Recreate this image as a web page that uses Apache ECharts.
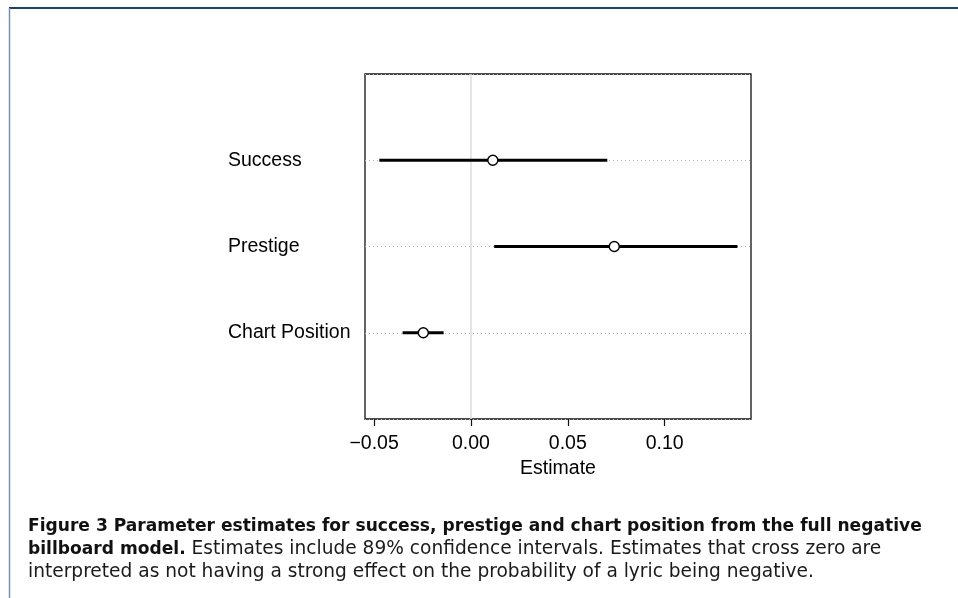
<!DOCTYPE html>
<html>
<head>
<meta charset="utf-8">
<script src="https://cdn.jsdelivr.net/npm/echarts@6/dist/echarts.min.js"></script>
<style>
  html, body { margin: 0; padding: 0; background: #ffffff; }
  #chart { width: 958px; height: 598px; }
</style>
</head>
<body>
<div id="chart"></div>
<script>
// Parameter estimates with 89% intervals, listed bottom to top
const categories = ['Chart Position', 'Prestige', 'Success'];
const estimates = [-0.0246, 0.0740, 0.0113];
const lowerBounds = [-0.0353, 0.0120, -0.0473];
const upperBounds = [-0.0141, 0.1376, 0.0704];
const xTickValues = [-0.05, 0.00, 0.05, 0.10];
const xRange = [-0.0547, 0.1446];

const captionBold1 = 'Figure 3 Parameter estimates for success, prestige and chart position from the full negative';
const captionBold2 = 'billboard model.';
const captionRest2 = ' Estimates include 89% confidence intervals. Estimates that cross zero are';
const captionLine3 = 'interpreted as not having a strong effect on the probability of a lyric being negative.';

const rows = categories.map((c, i) => i + 1);
const intervalData = categories.map((c, i) => [lowerBounds[i], upperBounds[i], rows[i]]);
const pointData = categories.map((c, i) => [estimates[i], rows[i]]);

const axisFont = "'Liberation Sans', Arial, Helvetica, sans-serif";
const captionFont = "'DejaVu Sans', sans-serif";
const boldFont = "bold 17.1px " + captionFont;
const plainFont = "18.6px " + captionFont;

const chart = echarts.init(document.getElementById('chart'), null, { renderer: 'canvas' });

chart.setOption({
  backgroundColor: '#ffffff',
  animation: false,
  grid: {
    left: 365, top: 74, right: 207, bottom: 179,
    show: true, borderColor: '#111111', borderWidth: 1.3, backgroundColor: 'transparent'
  },
  xAxis: {
    type: 'value',
    min: xRange[0], max: xRange[1],
    axisLine: { show: false },
    splitLine: { show: false },
    axisTick: { show: true, length: 7, lineStyle: { color: '#111111', width: 1.2 }, customValues: xTickValues },
    axisLabel: {
      customValues: xTickValues,
      margin: 15,
      fontSize: 19.5,
      fontFamily: axisFont,
      color: '#000000',
      formatter: v => (v < 0 ? '\u2212' : '') + Math.abs(v).toFixed(2)
    },
    name: 'Estimate',
    nameLocation: 'middle',
    nameGap: 40,
    nameTextStyle: { fontSize: 19.5, fontFamily: axisFont, color: '#000000' }
  },
  yAxis: {
    type: 'value',
    min: 0, max: 4, interval: 1,
    axisLine: { show: false },
    axisTick: { show: false },
    splitLine: { show: true, lineStyle: { color: '#b0b0b0', width: 1, type: [1, 3] } },
    axisLabel: {
      customValues: rows,
      formatter: v => categories[v - 1],
      align: 'left',
      margin: 137,
      fontSize: 19.5,
      fontFamily: axisFont,
      color: '#000000'
    }
  },
  series: [
    {
      type: 'custom',
      z: 2,
      data: intervalData,
      encode: { x: [0, 1], y: 2 },
      renderItem: function (params, api) {
        const y = api.value(2);
        const a = api.coord([api.value(0), y]);
        const b = api.coord([api.value(1), y]);
        return {
          type: 'line',
          shape: { x1: a[0], y1: a[1], x2: b[0], y2: b[1] },
          style: { stroke: '#000000', lineWidth: 3 }
        };
      },
      markLine: {
        silent: true,
        symbol: ['none', 'none'],
        label: { show: false },
        lineStyle: { color: '#dddddd', width: 1.5, type: 'solid' },
        data: [{ xAxis: 0 }],
        z: 1
      }
    },
    {
      type: 'scatter',
      z: 3,
      data: pointData,
      symbol: 'circle',
      symbolSize: 10,
      itemStyle: { color: '#ffffff', borderColor: '#000000', borderWidth: 1.4, opacity: 1 }
    }
  ],
  graphic: [
    { type: 'line', shape: { x1: 9, y1: 8, x2: 958, y2: 8 }, style: { stroke: '#1b3f6e', lineWidth: 2 } },
    { type: 'line', shape: { x1: 9.5, y1: 8, x2: 9.5, y2: 598 }, style: { stroke: '#7891b3', lineWidth: 1.5 } },
    {
      type: 'text', left: 28, top: 518,
      style: { text: captionBold1, font: boldFont, fill: '#111111' }
    },
    {
      type: 'text', left: 28, top: 540,
      style: {
        text: '{b|' + captionBold2 + '}{r|' + captionRest2 + '}',
        rich: {
          b: { font: boldFont, fill: '#111111' },
          r: { font: plainFont, fill: '#1a1a1a' }
        }
      }
    },
    {
      type: 'text', left: 28, top: 563,
      style: { text: captionLine3, font: plainFont, fill: '#1a1a1a' }
    }
  ]
});
</script>
</body>
</html>
